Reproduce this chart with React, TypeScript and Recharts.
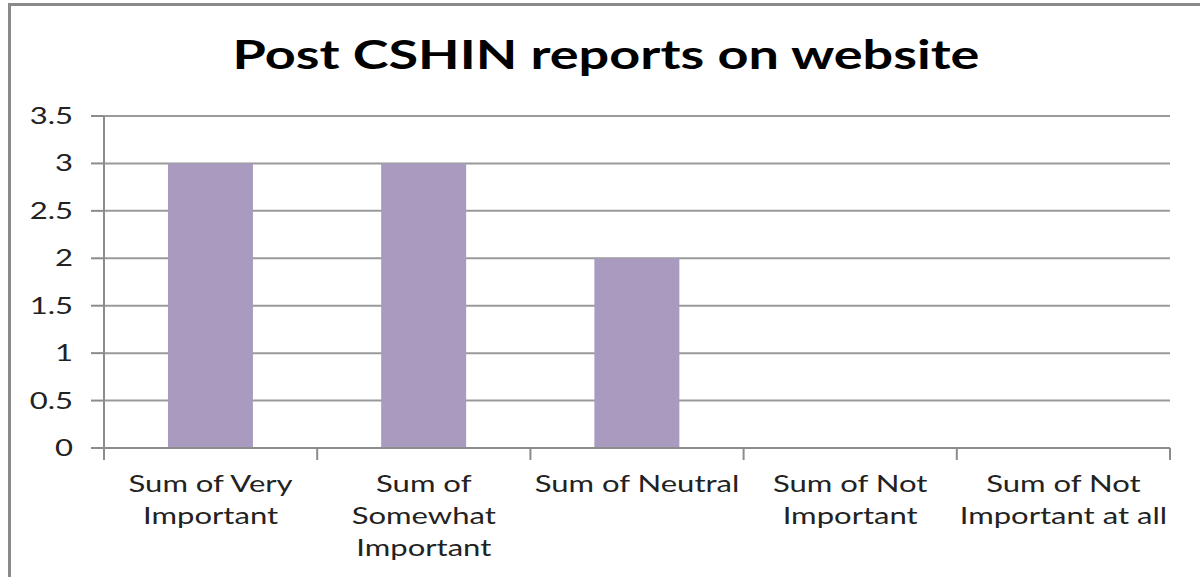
import { BarChart, Bar, XAxis, YAxis, CartesianGrid } from "recharts";

const categories = [
  "Sum of Very\nImportant",
  "Sum of\nSomewhat\nImportant",
  "Sum of Neutral",
  "Sum of Not\nImportant",
  "Sum of Not\nImportant at all",
];
const values = [3, 3, 2, 0, 0];
const yTicks = [0, 0.5, 1, 1.5, 2, 2.5, 3, 3.5];

const data = categories.map((name, i) => ({ name, value: values[i] }));

const W = 1200;
const H = 577;
const LEFT = 104;
const RIGHT = 1170;
const TOP = 116;
const BOTTOM = 448;
const FONT = "Lato, 'Open Sans', sans-serif";
const STRETCH = 1.35; // the source text is wide, so stretch it sideways
const band = (RIGHT - LEFT) / categories.length;

function stretchAt(x: number) {
  return `translate(${x},0) scale(${STRETCH},1) translate(${-x},0)`;
}

function CategoryTick({ x, y, payload, index }: any) {
  const lines = String(payload.value).split("\n");
  return (
    <g>
      <line x1={x - band / 2} y1={y - 8} x2={x - band / 2} y2={y + 4} stroke="#8c8c8c" strokeWidth={2} />
      {index === categories.length - 1 && (
        <line x1={x + band / 2} y1={y - 8} x2={x + band / 2} y2={y + 4} stroke="#8c8c8c" strokeWidth={2} />
      )}
      <text x={x} y={y} textAnchor="middle" fontFamily={FONT} fontSize={23} fill="#222" transform={stretchAt(x)}>
        {lines.map((l, i) => (
          <tspan key={i} x={x} dy={i === 0 ? 36 : 32}>
            {l}
          </tspan>
        ))}
      </text>
    </g>
  );
}

function ValueTick({ x, y, payload }: any) {
  return (
    <text x={x} y={y} dy={8} textAnchor="end" fontFamily={FONT} fontSize={23} fill="#222" transform={stretchAt(x)}>
      {payload.value}
    </text>
  );
}

export default function App() {
  return (
    <div style={{ position: "fixed", left: 0, top: 0, width: W, height: H, overflow: "hidden", background: "#fff" }}>
      <div
        style={{
          position: "absolute",
          left: 8,
          top: 3,
          width: W + 20,
          height: H + 20,
          border: "3px solid #8a8a8a",
          boxSizing: "border-box",
        }}
      />
      <div
        style={{
          position: "absolute",
          left: 0,
          top: 28,
          width: 1212,
          textAlign: "center",
          fontFamily: FONT,
          fontWeight: 700,
          fontSize: 40,
          color: "#000",
          lineHeight: "52px",
          transform: `scaleX(${STRETCH})`,
          transformOrigin: "606px 0",
        }}
      >
        Post CSHIN reports on website
      </div>
      <div style={{ position: "absolute", left: 0, top: 0 }}>
        <BarChart
          width={W}
          height={H}
          data={data}
          margin={{ top: TOP, left: LEFT - 60, right: W - RIGHT, bottom: H - BOTTOM - 30 }}
          barCategoryGap="30%"
        >
          <CartesianGrid vertical={false} stroke="#9a9a9a" strokeWidth={2} />
          <XAxis
            dataKey="name"
            interval={0}
            tickLine={false}
            axisLine={{ stroke: "#8c8c8c", strokeWidth: 2 }}
            tick={<CategoryTick />}
            height={30}
          />
          <YAxis
            width={60}
            domain={[0, 3.5]}
            ticks={yTicks}
            tickSize={13}
            tickMargin={18}
            axisLine={{ stroke: "#8c8c8c", strokeWidth: 2 }}
            tickLine={{ stroke: "#8c8c8c", strokeWidth: 2 }}
            tick={<ValueTick />}
          />
          <Bar dataKey="value" fill="#a99bbf" isAnimationActive={false} />
        </BarChart>
      </div>
    </div>
  );
}
